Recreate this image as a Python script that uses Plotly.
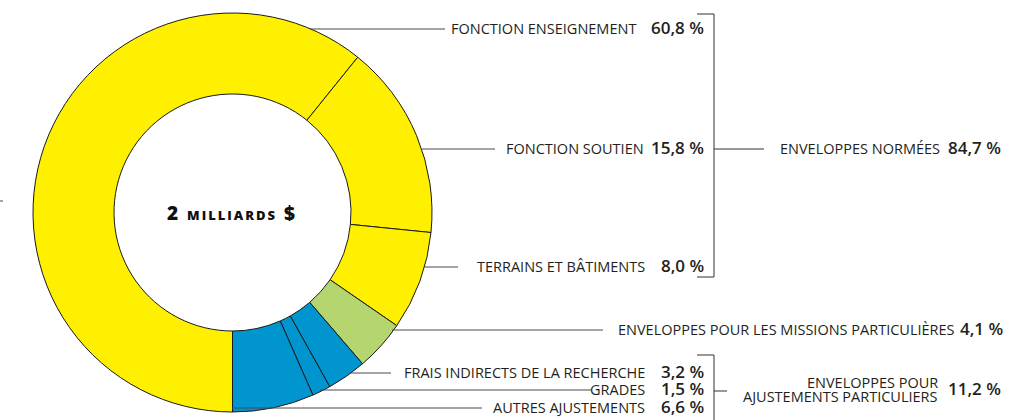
import plotly.graph_objects as go

# ---- data ----
categories = ["FONCTION ENSEIGNEMENT", "FONCTION SOUTIEN", "TERRAINS ET BÂTIMENTS",
              "ENVELOPPES POUR LES MISSIONS PARTICULIÈRES",
              "FRAIS INDIRECTS DE LA RECHERCHE", "GRADES", "AUTRES AJUSTEMENTS"]
values = [60.8, 15.8, 8.0, 4.1, 3.2, 1.5, 6.6]
colors = ["#FFF000", "#FFF000", "#FFF000", "#B5D56E", "#0095CF", "#0095CF", "#0095CF"]
group_labels = [["ENVELOPPES NORMÉES"], ["ENVELOPPES POUR", "AJUSTEMENTS PARTICULIERS"]]
group_values = [84.7, 11.2]
center_text = "2 milliards $"

W, H = 1032, 420


def fmt(v):
    return f"{v:.1f}".replace(".", ",") + " %"


FONT = "Open Sans"
TXT = "#231f20"
LEAD = "#4a4a4a"
LBL = 14.5
VAL = 17

fig = go.Figure()

cx, cy, r = 232.5, 212.5, 199.5
fig.add_trace(go.Pie(
    values=values, labels=categories, sort=False, direction="clockwise", rotation=180,
    hole=0.594, textinfo="none", hoverinfo="label+value",
    marker=dict(colors=colors, line=dict(color="#1a1a1a", width=1)),
    domain=dict(x=[(cx - r) / W, (cx + r) / W], y=[(H - cy - r) / H, (H - cy + r) / H]),
    showlegend=False,
))

# invisible pixel-space axes
fig.add_trace(go.Scatter(x=[0, W], y=[0, H], mode="markers", marker=dict(opacity=0),
                         hoverinfo="skip", showlegend=False))

# leader lines (x0, x1, y), label right edge, value right edge
leaders = [
    (310, 445, 29, 638, 706),
    (422, 495, 149, 646, 706),
    (424, 458, 267, 647, 706),
    (392, 603, 330, 957, 1005),
    (350, 391, 373, 647, 706),
    (320, 591, 390, 647, 706),
    (232, 482, 408, 647, 706),
]
shapes = []
annotations = []
for (x0, x1, y, lx, vx), cat, v in zip(leaders, categories, values):
    shapes.append(dict(type="line", x0=x0, x1=x1, y0=y, y1=y, xref="x", yref="y",
                       line=dict(color=LEAD, width=1)))
    annotations.append(dict(x=lx, y=y - 1, xref="x", yref="y", text=cat, showarrow=False,
                            xanchor="right", yanchor="middle",
                            font=dict(family=FONT, size=LBL, color=TXT)))
    annotations.append(dict(x=vx, y=y - 2, xref="x", yref="y", text=fmt(v), showarrow=False,
                            xanchor="right", yanchor="middle",
                            font=dict(family=FONT, size=VAL, color=TXT, weight=600)))

# brackets
BR = "#333333"
bx = 714
for (x0, y0, x1, y1) in [
    (bx, 14, bx, 277), (697, 14, bx, 14), (697, 277, bx, 277), (bx, 149, 764, 149),
    (bx, 355, bx, 420), (697, 355, bx, 355), (bx, 391, 727, 391),
    (0, 201, 3, 201),
]:
    shapes.append(dict(type="line", x0=x0, x1=x1, y0=y0, y1=y1, xref="x", yref="y",
                       line=dict(color=BR if x0 > 10 else LEAD, width=1)))

# group labels
group_pos = [(942, [148], 1003, 147), (940, [382, 396], 1003, 388)]
for (lx, ys, vx, vy), lines, gv in zip(group_pos, group_labels, group_values):
    for yy, t in zip(ys, lines):
        annotations.append(dict(x=lx, y=yy, xref="x", yref="y", text=t, showarrow=False,
                                xanchor="right", yanchor="middle",
                                font=dict(family=FONT, size=LBL, color=TXT)))
    annotations.append(dict(x=vx, y=vy, xref="x", yref="y", text=fmt(gv), showarrow=False,
                            xanchor="right", yanchor="middle",
                            font=dict(family=FONT, size=VAL, color=TXT, weight=600)))

# center text
annotations.append(dict(x=cx - 1, y=213, xref="x", yref="y",
                        text='<span style="letter-spacing:2px">' + center_text + "</span>",
                        showarrow=False, xanchor="center", yanchor="middle",
                        font=dict(family=FONT, size=19, color="#111111", weight=800,
                                  variant="small-caps")))

fig.update_layout(
    width=W, height=H, margin=dict(l=0, r=0, t=0, b=0),
    paper_bgcolor="white", plot_bgcolor="rgba(0,0,0,0)",
    xaxis=dict(range=[0, W], visible=False, fixedrange=True),
    yaxis=dict(range=[H, 0], visible=False, fixedrange=True),
    shapes=shapes, annotations=annotations, showlegend=False,
)

fig.write_html("out.html", config={"displayModeBar": False},
               post_script="document.body.style.margin='0';document.body.style.padding='0';"
                           "document.body.style.overflow='hidden';")
